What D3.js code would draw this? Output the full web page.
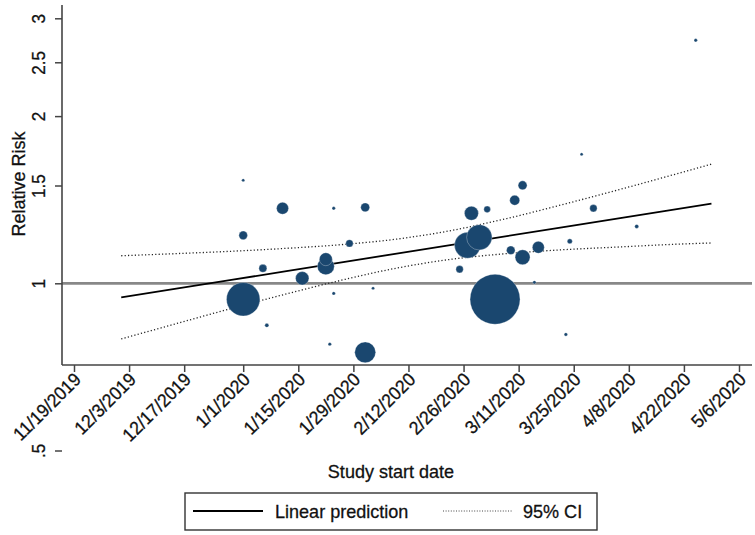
<!DOCTYPE html>
<html><head><meta charset="utf-8">
<script src="https://cdn.jsdelivr.net/npm/d3@7"></script>
<style>
body{margin:0;background:#fff}
text{font-family:"Liberation Sans",Arial,Helvetica,sans-serif;fill:#111}
</style>
</head><body><svg id="c" width="755" height="535"></svg>
<script>
// ---- data ----
const studyDates = ["2020-01-01","2020-01-11","2020-01-24","2020-02-01","2020-01-01","2020-01-28","2020-01-06","2020-01-22","2020-01-22","2020-01-16","2020-01-01","2020-01-24","2020-02-03","2020-01-07","2020-01-23","2020-02-01","2020-03-12","2020-03-10","2020-02-28","2020-03-03","2020-03-30","2020-02-27","2020-03-01","2020-03-09","2020-03-12","2020-03-16","2020-03-24","2020-02-25","2020-03-05","2020-03-15","2020-03-23","2020-04-25","2020-03-27","2020-04-10"];
const relRisk = [1.533,1.365,1.365,1.370,1.220,1.180,1.064,1.105,1.073,1.021,0.936,0.959,0.980,0.840,0.777,0.751,1.501,1.411,1.337,1.359,1.365,1.171,1.210,1.147,1.114,1.161,1.190,1.060,0.936,1.004,0.809,2.739,1.707,1.266];
const studyWeight = [2.3,36,2.9,20,18.5,13.7,16,42,72,45,279,2.9,2.3,4,2.9,110,20,25,49,11,13.7,169,161,18.5,56,36,6.3,13.7,625,2.9,2.9,2.9,2.3,4];

const fitDates = ["2019-12-01","2019-12-15","2019-12-29","2020-01-12","2020-01-26","2020-02-09","2020-02-23","2020-03-08","2020-03-22","2020-04-05","2020-04-19","2020-04-29"];
const fitValues = [0.943,0.978,1.014,1.052,1.091,1.131,1.173,1.216,1.261,1.308,1.356,1.392];
const ciLower = [0.794,0.846,0.901,0.957,1.013,1.065,1.105,1.131,1.149,1.162,1.175,1.182];
const ciUpper = [1.121,1.131,1.142,1.156,1.174,1.201,1.245,1.308,1.385,1.471,1.566,1.639];

const xTickDates = ["2019-11-19","2019-12-03","2019-12-17","2020-01-01","2020-01-15","2020-01-29","2020-02-12","2020-02-26","2020-03-11","2020-03-25","2020-04-08","2020-04-22","2020-05-06"];
const yTickValues = [0.5,1,1.5,2,2.5,3];
const yTickLabels = [".5","1","1.5","2","2.5","3"];
const refValue = 1;
const legendLabels = ["Linear prediction","95% CI"];
const xTitle = "Study start date";
const yTitle = "Relative Risk";

// ---- drawing ----
const parse = d3.utcParse("%Y-%m-%d");
const svg = d3.select("#c");
const navy = "#1a476f";
const FONT = '"Liberation Sans",Arial,Helvetica,sans-serif';

const x = d3.scaleUtc().domain([parse("2019-11-19"), parse("2020-05-06")]).range([74, 739]);
const y = d3.scaleLog().domain([0.5, 3]).range([450.5, 18.3]);
const r = d3.scaleSqrt().domain([0, 625]).range([0, 25]);

const plotLeft = 62, plotRight = 752, plotTop = 5, plotBottom = 365;

// reference line at RR = 1
svg.append("line").attr("x1", plotLeft).attr("x2", plotRight)
  .attr("y1", y(refValue)).attr("y2", y(refValue))
  .attr("stroke", "#888").attr("stroke-width", 2.8);

const fitPts = fitDates.map((d, i) => ({d: parse(d), v: fitValues[i], lo: ciLower[i], hi: ciUpper[i]}));

const ciLine = key => d3.line().x(p => x(p.d)).y(p => y(p[key])).curve(d3.curveMonotoneX);
["lo", "hi"].forEach(k => {
  svg.append("path").datum(fitPts).attr("d", ciLine(k))
    .attr("fill", "none").attr("stroke", "#222").attr("stroke-width", 1.3)
    .attr("stroke-dasharray", "1.2,2.2");
});
svg.append("path").datum(fitPts)
  .attr("d", d3.line().x(p => x(p.d)).y(p => y(p.v)))
  .attr("fill", "none").attr("stroke", "#000").attr("stroke-width", 1.8);

// bubbles (largest drawn first)
const pts = studyDates.map((d, i) => ({d: parse(d), v: relRisk[i], w: studyWeight[i]}))
  .sort((a, b) => b.w - a.w);
svg.append("g").selectAll("circle").data(pts).join("circle")
  .attr("cx", p => x(p.d)).attr("cy", p => y(p.v)).attr("r", p => r(p.w))
  .attr("fill", navy).attr("stroke", "#fff").attr("stroke-width", 0.3);

// text style helper (slightly heavier, taller glyphs like the reference)
const styleText = (sel, size) => sel.style("font-size", size + "px").style("font-family", FONT)
  .attr("fill", "#111").attr("stroke", "#111").attr("stroke-width", 0.3);

// axes
const axisColor = "#444";
const yAxis = svg.append("g").attr("transform", `translate(${plotLeft},0)`)
  .call(d3.axisLeft(y).tickValues(yTickValues).tickFormat((v, i) => yTickLabels[i]).tickSize(7));
yAxis.select(".domain").remove();
yAxis.selectAll(".tick line").attr("stroke", axisColor).attr("stroke-width", 1.5);
styleText(yAxis.selectAll(".tick text")
  .attr("x", 0).attr("y", 0).attr("dy", 0)
  .attr("transform", "translate(-17,0) rotate(-90) scale(0.95,1)")
  .attr("text-anchor", "middle"), 18);
svg.append("line").attr("x1", plotLeft).attr("x2", plotLeft).attr("y1", plotTop).attr("y2", plotBottom)
  .attr("stroke", axisColor).attr("stroke-width", 1.6);

const fmt = d3.utcFormat("%-m/%-d/%Y");
const xAxis = svg.append("g").attr("transform", `translate(0,${plotBottom})`)
  .call(d3.axisBottom(x).tickValues(xTickDates.map(parse)).tickFormat(fmt).tickSize(7));
xAxis.select(".domain").remove();
xAxis.selectAll(".tick line").attr("stroke", axisColor).attr("stroke-width", 1.5);
styleText(xAxis.selectAll(".tick text")
  .attr("x", 0).attr("y", 0).attr("dy", "0.35em")
  .attr("transform", "translate(3,11) rotate(-45) scale(0.95,1)")
  .attr("text-anchor", "end"), 18.5);
svg.append("line").attr("x1", plotLeft).attr("x2", plotRight).attr("y1", plotBottom).attr("y2", plotBottom)
  .attr("stroke", axisColor).attr("stroke-width", 1.6);

// titles
styleText(svg.append("text").attr("transform", "translate(391,478) scale(0.95,1)").attr("text-anchor", "middle"), 19)
  .text(xTitle);
styleText(svg.append("text").attr("transform", "translate(25,184) rotate(-90) scale(0.95,1)").attr("text-anchor", "middle"), 19)
  .text(yTitle);

// legend
const lg = svg.append("g");
lg.append("rect").attr("x", 185).attr("y", 493).attr("width", 412).attr("height", 37)
  .attr("fill", "#fff").attr("stroke", "#333").attr("stroke-width", 1.4);
lg.append("line").attr("x1", 193).attr("x2", 263).attr("y1", 511).attr("y2", 511)
  .attr("stroke", "#000").attr("stroke-width", 1.8);
styleText(lg.append("text").attr("transform", "translate(275,518) scale(0.95,1)"), 19).text(legendLabels[0]);
lg.append("line").attr("x1", 443).attr("x2", 513).attr("y1", 511).attr("y2", 511)
  .attr("stroke", "#444").attr("stroke-width", 1).attr("stroke-dasharray", "1,1.6");
styleText(lg.append("text").attr("transform", "translate(523,518) scale(0.95,1)"), 19).text(legendLabels[1]);
</script>
</body></html>
